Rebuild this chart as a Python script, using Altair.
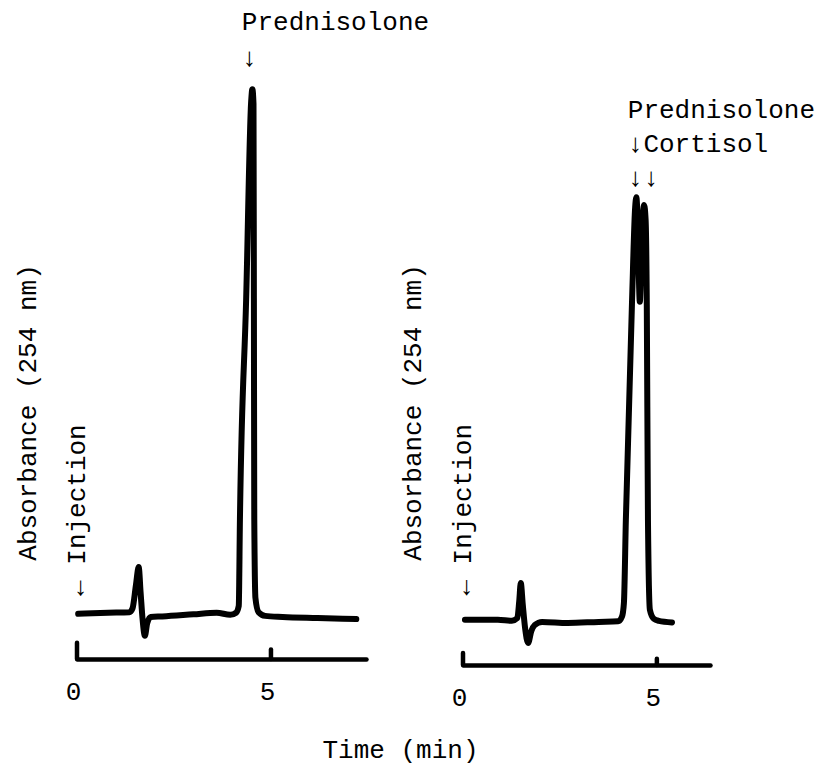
import altair as alt
import pandas as pd

FONT = "Liberation Mono"

# ---- data (time in min, absorbance in arbitrary units) ----
left_time = [0.03, 0.80, 1.35, 1.43, 1.52, 1.59, 1.64, 1.69, 1.75, 1.81, 1.90, 2.20, 3.00,
             3.60, 3.95, 4.10, 4.17, 4.20, 4.36, 4.49, 4.52, 4.55, 4.56, 4.57, 4.60, 4.68,
             4.85, 5.30, 6.20, 7.20]
left_abs = [0.0, 0.2, 0.3, 1.0, 5.5, 8.9, 4.0, -1.0, -4.2, -1.8, -0.6, -0.5, -0.1,
            0.2, -0.2, 0.2, 1.5, 17.9, 59.7, 97.5, 99.8, 97.0, 60.0, 18.0, 3.0, 0.3,
            -0.4, -0.6, -0.8, -1.0]

right_time = [0.05, 0.90, 1.26, 1.40, 1.45, 1.49, 1.54, 1.60, 1.68, 1.76, 1.85, 2.04, 2.70,
              3.50, 4.00, 4.10, 4.15, 4.20, 4.36, 4.44, 4.47, 4.50, 4.56, 4.62, 4.67, 4.71,
              4.74, 4.77, 4.82, 4.92, 5.05, 5.39]
right_abs = [0.0, 0.0, -0.2, 0.3, 3.5, 7.0, 3.0, -1.5, -4.4, -2.2, -1.0, -0.4, -0.6,
             -0.4, -0.3, 0.6, 3.2, 19.0, 60.8, 78.5, 80.4, 77.0, 60.5, 74.0, 78.9, 76.0,
             60.0, 19.0, 1.9, 0.2, -0.2, -0.5]

tick_values = [0, 5]
left_tick_tops = [-5.5, -6.8]
right_tick_tops = [-6.3, -7.4]

left_x_max = 7.45
right_x_max = 6.37
left_y_domain = [-8.6, 116.0]
right_y_domain = [-8.6, 117.14]

left_labels = ["Prednisolone", "\u2193"]
left_label_t = [4.25, 4.25]
left_label_v = [111.1, 105.8]
left_label_baseline = ["alphabetic", "middle"]

right_labels = ["Prednisolone", "\u2193Cortisol", "\u2193\u2193"]
right_label_t = [4.25, 4.25, 4.25]
right_label_v = [95.5, 89.0, 84.1]
right_label_baseline = ["alphabetic", "alphabetic", "middle"]

injection_text = "\u2190 Injection"
left_injection_v = 3.4
right_injection_v = 4.6

y_title = "Absorbance (254 nm)"
x_title = "Time (min)"

PX_PER_MIN = 38.8
PX_PER_UNIT = 5.257


def panel(time, absorb, x_max, y_dom, tick_tops, labels, label_t, label_v, label_bl,
          inj_v, title_x):
    width = round(x_max * PX_PER_MIN)
    height = round((y_dom[1] - y_dom[0]) * PX_PER_UNIT)
    xs = alt.Scale(domain=[0, x_max], nice=False, zero=False)
    ys = alt.Scale(domain=y_dom, nice=False, zero=False)
    x_axis = alt.Axis(values=tick_values, format="d", title=None, ticks=False, tickSize=0,
                      labelPadding=19, labelOffset=-4, domainWidth=4.5, domainColor="black",
                      labelFont=FONT, labelFontSize=26, labelColor="black", grid=False,
                      domainCap="round", labelFlush=False)
    y_axis = alt.Axis(title=y_title, domain=False, ticks=False, labels=False, grid=False,
                      titleFont=FONT, titleFontSize=26, titleFontWeight="normal",
                      titleColor="black", titleAngle=270, titleX=title_x, titleY=408,
                      titleAlign="center", titleBaseline="middle")

    trace_df = pd.DataFrame({"t": time, "v": absorb})
    trace = alt.Chart(trace_df).mark_line(
        color="black", strokeWidth=6, strokeCap="round", strokeJoin="round",
        interpolate="monotone"
    ).encode(
        x=alt.X("t:Q", scale=xs, axis=x_axis),
        y=alt.Y("v:Q", scale=ys, axis=y_axis),
    )

    tick_df = pd.DataFrame({"t": tick_values, "v": [y_dom[0]] * len(tick_values),
                            "top": tick_tops})
    ticks = alt.Chart(tick_df).mark_rule(color="black", strokeWidth=4.5,
                                         strokeCap="round").encode(
        x=alt.X("t:Q", scale=xs, axis=x_axis),
        y=alt.Y("v:Q", scale=ys, axis=y_axis),
        y2="top:Q",
    )

    layers = [trace, ticks]
    for lab, t, v, bl in zip(labels, label_t, label_v, label_bl):
        ldf = pd.DataFrame({"t": [t], "v": [v], "label": [lab]})
        layers.append(
            alt.Chart(ldf).mark_text(font=FONT, fontSize=26, color="black", align="left",
                                     baseline=bl).encode(
                x=alt.X("t:Q", scale=xs, axis=x_axis),
                y=alt.Y("v:Q", scale=ys, axis=y_axis),
                text="label:N",
            )
        )

    inj_df = pd.DataFrame({"t": [0.0], "v": [inj_v], "label": [injection_text]})
    layers.append(
        alt.Chart(inj_df).mark_text(font=FONT, fontSize=26, color="black", align="left",
                                    baseline="middle", angle=270).encode(
            x=alt.X("t:Q", scale=xs, axis=x_axis),
            y=alt.Y("v:Q", scale=ys, axis=y_axis),
            text="label:N",
        )
    )
    return alt.layer(*layers).properties(width=width, height=height)


left = panel(left_time, left_abs, left_x_max, left_y_domain, left_tick_tops,
             left_labels, left_label_t, left_label_v, left_label_baseline,
             left_injection_v, -50)
right = panel(right_time, right_abs, right_x_max, right_y_domain, right_tick_tops,
              right_labels, right_label_t, right_label_v, right_label_baseline,
              right_injection_v, -51)

chart = alt.hconcat(left, right, spacing=97, bounds="flush").properties(
    title=alt.TitleParams(x_title, orient="bottom", font=FONT, fontSize=26,
                          fontWeight="normal", color="black", anchor="middle",
                          offset=27, dx=-14),
    padding={"left": 14, "top": 4, "right": 0, "bottom": 8},
    background="white",
).configure_view(stroke=None)

chart.save("out.html", embed_options={"renderer": "svg", "actions": False})
